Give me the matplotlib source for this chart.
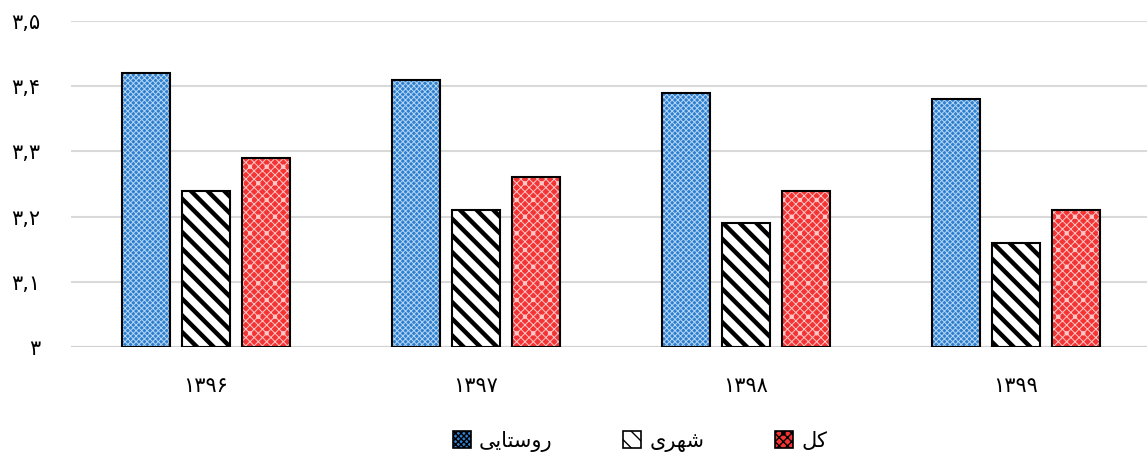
import numpy as np
import matplotlib.pyplot as plt
import matplotlib.patches as mpatches

plt.rcParams['font.family'] = ['DejaVu Sans']

# years (Persian digits) and series values
years = ['\u06F1\u06F3\u06F9\u06F6', '\u06F1\u06F3\u06F9\u06F7',
         '\u06F1\u06F3\u06F9\u06F8', '\u06F1\u06F3\u06F9\u06F9']
rural = [3.42, 3.41, 3.39, 3.38]
urban = [3.24, 3.21, 3.19, 3.16]
total = [3.29, 3.26, 3.24, 3.21]

# legend labels, written in presentation forms in visual order
lab_rural = '\uFBFD\uFBFE\uFE8E\uFE98\uFEB3\uFEED\uFEAD'   # روستایی
lab_urban = '\uFBFC\uFEAE\uFEEC\uFEB7'                     # شهری
lab_total = '\uFEDE\uFB90'                                 # کل

yticks = [3.0, 3.1, 3.2, 3.3, 3.4, 3.5]
ytick_labels = ['\u06F3', '\u06F3,\u06F1', '\u06F3,\u06F2',
                '\u06F3,\u06F3', '\u06F3,\u06F4', '\u06F3,\u06F5']

fig = plt.figure(figsize=(11.47, 4.62), dpi=100)
ax = fig.add_axes([71/1147, 115/462, 1080/1147, 326/462])

x = np.arange(len(years))
w = 0.178
off = 0.222

styles = [
    (rural, -off, '#2F7FD0', 'xxxxxx', '#B5D6F2', 0.7),
    (urban, 0.0, 'white', '\\\\', 'black', 3.2),
    (total, off, '#F43434', 'xxxx.', '#FFC8C8', 0.7),
]
handles = []
for vals, o, fc, hatch, hc, hlw in styles:
    heights = np.array(vals) - 3.0
    bars = ax.bar(x + o, heights, w, bottom=3.0, color=fc, hatch=hatch,
                  edgecolor=hc, linewidth=0, zorder=2)
    for b in bars:
        if hasattr(b, 'set_hatch_linewidth'):
            b.set_hatch_linewidth(hlw)
    ax.bar(x + o, heights, w, bottom=3.0, fill=False,
           edgecolor='black', linewidth=1.5, zorder=3)
    p = mpatches.Patch(facecolor=fc, hatch=hatch[:2] if hc == 'black' else hatch,
                       edgecolor=hc, linewidth=0)
    if hasattr(p, 'set_hatch_linewidth'):
        p.set_hatch_linewidth(min(hlw, 2.5))
    handles.append(p)

ax.set_xlim(-0.5, 3.5)
ax.set_ylim(3.0, 3.5)
ax.set_yticks(yticks)
ax.set_yticklabels(ytick_labels, fontsize=15)
ax.set_xticks(x)
ax.set_xticklabels(years, fontsize=15)
ax.tick_params(axis='both', length=0)
ax.tick_params(axis='y', pad=22)
ax.tick_params(axis='x', pad=21)
ax.yaxis.grid(True, color='#D9D9D9', linewidth=1.5, zorder=0)
ax.set_axisbelow(True)
for s in ['top', 'right', 'left', 'bottom']:
    ax.spines[s].set_visible(False)
ax.axhline(3.0, color='#D0D0D0', linewidth=1.5, zorder=1)

leg = fig.legend(handles, [lab_rural, lab_urban, lab_total],
                 loc='center', bbox_to_anchor=(640/1147, 1 - 441/462),
                 ncol=3, frameon=False, fontsize=15,
                 handlelength=0.85, handleheight=0.85,
                 handletextpad=0.4, columnspacing=3.4)
for h in leg.legend_handles:
    h.set_edgecolor('black')
    h.set_linewidth(1.2)

fig.savefig('out.png', dpi=100)
